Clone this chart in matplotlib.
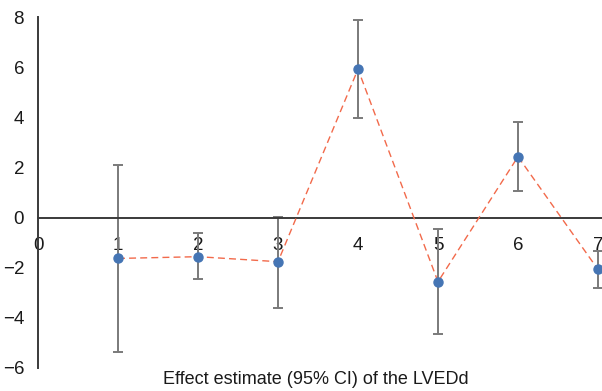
import matplotlib
matplotlib.use("Agg")
import matplotlib.pyplot as plt
import numpy as np

plt.rcParams["font.family"] = ["Liberation Sans", "DejaVu Sans"]

# === Data ===
positions = [1, 2, 3, 4, 5, 6, 7]
estimates = [-1.63, -1.56, -1.76, 5.92, -2.56, 2.43, -2.07]
ci_lower = [-5.36, -2.47, -3.59, 3.97, -4.65, 1.04, -2.80]
ci_upper = [2.10, -0.63, 0.04, 7.88, -0.44, 3.81, -1.35]
xticks = [0, 1, 2, 3, 4, 5, 6, 7]
yticks = [-6, -4, -2, 0, 2, 4, 6, 8]

est = np.array(estimates)
err = [est - np.array(ci_lower), np.array(ci_upper) - est]

fig = plt.figure(figsize=(6.02, 3.91), dpi=100)
ax = fig.add_axes([38 / 602, 23 / 391, 564 / 602, 351 / 391])

ax.errorbar(positions, estimates, yerr=err, fmt="none", ecolor="#7a7a7a",
            elinewidth=1.4, capsize=3.5, capthick=1.4, zorder=2, clip_on=False)
ax.plot(positions, estimates, linestyle=(0, (5, 3)), color="#f26a4b",
        linewidth=1.0, zorder=3, clip_on=False)
ax.plot(positions, estimates, "o", color="#4575b4", markersize=6.5,
        zorder=4, clip_on=False)

ax.set_xlim(0, 7.05)
ax.set_ylim(-6, 8)
ax.set_xticks(xticks)
ax.set_yticks(yticks)
ax.set_yticklabels([str(t).replace("-", "\u2212") for t in yticks])

ax.spines["top"].set_visible(False)
ax.spines["right"].set_visible(False)
ax.spines["bottom"].set_position(("data", 0))
for s in ("left", "bottom"):
    ax.spines[s].set_color("#3a3a3a")
    ax.spines[s].set_linewidth(1.4)

ax.tick_params(axis="x", length=0, pad=14, labelsize=13.5, colors="#1a1a1a")
ax.tick_params(axis="y", length=0, pad=10, labelsize=13.5, colors="#1a1a1a")

fig.text(316 / 602, 11 / 391, "Effect estimate (95% CI) of the LVEDd",
         ha="center", va="center", fontsize=13, color="#1a1a1a")

fig.savefig("out.png", dpi=100)
